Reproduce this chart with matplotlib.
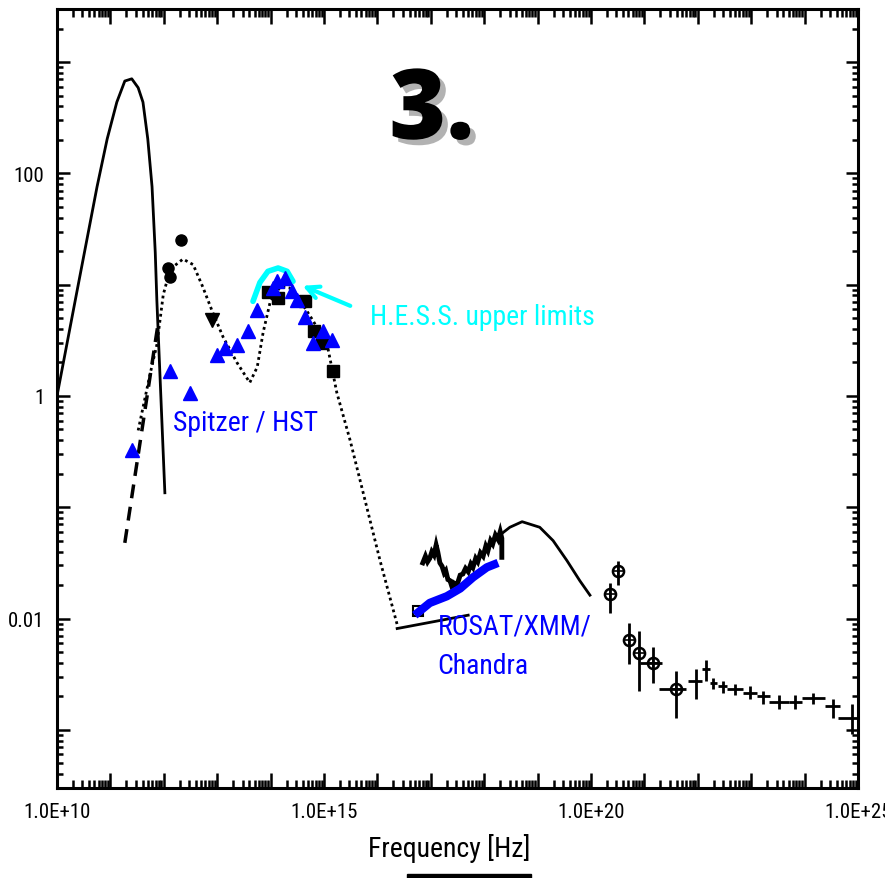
import numpy as np
import matplotlib
matplotlib.use("Agg")
import matplotlib.pyplot as plt
import matplotlib.patheffects as pe
from matplotlib.ticker import LogLocator, FuncFormatter, NullFormatter
from matplotlib.patches import Rectangle

# narrow sans like the original Arial Narrow labels
plt.rcParams['font.family'] = ['Roboto Condensed', 'DejaVu Sans']

# all values are log10(frequency [Hz]) and log10(flux)
radio_x = [10.00, 10.37, 10.75, 10.94, 11.12, 11.27, 11.40, 11.52, 11.61, 11.70, 11.78, 11.84, 11.87, 12.02]
radio_y = [0.00, 0.93, 1.88, 2.31, 2.64, 2.83, 2.85, 2.77, 2.64, 2.31, 1.88, 1.29, 0.86, -0.87]

dash_x = [11.27, 11.89]
dash_y = [-1.32, 0.64]

sync_x = [11.52, 11.74, 11.87, 11.99, 12.12, 12.36, 12.55, 12.73, 12.90, 13.11, 13.37, 13.61, 13.75,
          13.86, 13.99, 14.18, 14.36, 14.55, 14.79, 15.06, 15.24, 15.49, 15.77, 16.05, 16.39]
sync_y = [-0.31, 0.19, 0.46, 0.91, 1.14, 1.23, 1.18, 0.98, 0.77, 0.53, 0.30, 0.12, 0.26,
          0.57, 0.84, 0.98, 0.97, 0.86, 0.68, 0.46, 0.03, -0.40, -0.94, -1.48, -2.09]

low_x = [16.37, 17.70]
low_y = [-2.09, -1.97]

ic_x = [18.24, 18.48, 18.71, 19.04, 19.29, 19.55, 19.79, 19.98]
ic_y = [-1.27, -1.18, -1.13, -1.18, -1.30, -1.48, -1.66, -1.79]

xray_x = [16.85, 16.90, 16.94, 16.98, 17.02, 17.06, 17.10, 17.13, 17.17, 17.21, 17.25, 17.28, 17.32,
          17.36, 17.40, 17.43, 17.49, 17.55, 17.60, 17.65, 17.70, 17.75, 17.79, 17.84, 17.88, 17.93,
          17.98, 18.03, 18.07, 18.12, 18.16, 18.21, 18.26, 18.30, 18.33, 18.33]
xray_y = [-1.50, -1.44, -1.49, -1.46, -1.40, -1.43, -1.34, -1.40, -1.50, -1.53, -1.59, -1.57, -1.65,
          -1.66, -1.72, -1.68, -1.70, -1.61, -1.60, -1.55, -1.58, -1.51, -1.54, -1.46, -1.49, -1.41,
          -1.44, -1.35, -1.39, -1.30, -1.33, -1.25, -1.29, -1.22, -1.28, -1.45]

rosat_x = [16.70, 16.98, 17.30, 17.55, 17.79, 18.05, 18.26]
rosat_y = [-1.97, -1.86, -1.80, -1.73, -1.63, -1.54, -1.50]

hess_x = [13.67, 13.80, 13.95, 14.14, 14.31, 14.42]
hess_y = [0.85, 1.02, 1.12, 1.15, 1.12, 1.03]

spitzer_x = [11.40, 12.12, 12.49, 13.00, 13.15, 13.37, 13.58, 13.75, 14.04, 14.12, 14.27, 14.40,
             14.49, 14.64, 14.79, 14.98, 15.15]
spitzer_y = [-0.49, 0.22, 0.03, 0.37, 0.43, 0.46, 0.58, 0.77, 0.97, 1.03, 1.06, 0.94,
             0.86, 0.71, 0.48, 0.58, 0.50]

circ_x = [12.08, 12.12, 12.32]
circ_y = [1.15, 1.07, 1.40]

down_x = [12.90]
down_y = [0.68]

sq_x = [13.95, 14.14, 14.64, 14.81, 14.96, 15.17]
sq_y = [0.93, 0.88, 0.85, 0.58, 0.48, 0.22]

opensq_x = [16.76]
opensq_y = [-1.93]

# gamma-ray points with circles: value, lower / upper error ends
gc_x = [20.51, 20.36, 20.71, 20.90, 21.16, 21.59]
gc_y = [-1.57, -1.78, -2.19, -2.31, -2.40, -2.63]
gc_ylo = [-1.70, -1.95, -2.41, -2.65, -2.58, -2.89]
gc_yhi = [-1.48, -1.68, -2.04, -2.11, -2.26, -2.47]
gc_xlo = [20.51, 20.36, 20.71, 20.90, 20.92, 21.27]
gc_xhi = [20.51, 20.36, 20.71, 20.90, 21.33, 21.78]

# gamma-ray crosses
gx = [21.97, 22.15, 22.28, 22.47, 22.70, 22.98, 23.22, 23.52, 23.82, 24.16, 24.53, 24.89]
gy = [-2.56, -2.45, -2.58, -2.61, -2.63, -2.67, -2.70, -2.75, -2.75, -2.71, -2.79, -2.89]
gylo = [-2.72, -2.56, -2.63, -2.67, -2.69, -2.72, -2.77, -2.81, -2.81, -2.77, -2.89, -3.04]
gyhi = [-2.45, -2.37, -2.53, -2.56, -2.59, -2.61, -2.65, -2.69, -2.69, -2.67, -2.72, -2.77]
gxlo = [21.82, 22.08, 22.23, 22.38, 22.55, 22.85, 23.11, 23.33, 23.71, 23.95, 24.38, 24.63]
gxhi = [22.08, 22.23, 22.36, 22.55, 22.85, 23.11, 23.35, 23.71, 23.95, 24.38, 24.66, 25.00]


def p(v):
    return 10 ** np.asarray(v, dtype=float)


fig = plt.figure(figsize=(8.85, 8.79), dpi=100)
ax = fig.add_axes([0.0644, 0.1024, 0.9051, 0.8862])
ax.set_xscale('log')
ax.set_yscale('log')
ax.set_xlim(1e10, 1e25)
ax.set_ylim(3e-4, 3e3)

# model curves
ax.plot(p(radio_x), p(radio_y), color='k', lw=2)
ax.plot(p(dash_x), p(dash_y), color='k', lw=2.5, dashes=(4, 2.5))
ax.plot(p(sync_x), p(sync_y), color='k', lw=2, linestyle=(0, (1, 1.2)))
ax.plot(p(low_x), p(low_y), color='k', lw=2)
ax.plot(p(ic_x), p(ic_y), color='k', lw=2)
ax.plot(p(xray_x), p(xray_y), color='k', lw=3.5, solid_joinstyle='miter')

# data
ax.plot(p(hess_x), p(hess_y), color='#00ffff', lw=4, solid_capstyle='round', zorder=3)
ax.plot(p(spitzer_x), p(spitzer_y), '^', color='#0000ff', ms=10, zorder=4)
ax.plot(p(circ_x), p(circ_y), 'o', color='k', ms=8)
ax.plot(p(down_x), p(down_y), 'v', color='k', ms=10)
ax.plot(p(sq_x), p(sq_y), 's', color='k', ms=8, zorder=3)
ax.plot(p(rosat_x), p(rosat_y), color='#0000ff', lw=6, solid_capstyle='butt', zorder=4)
ax.plot(p(opensq_x), p(opensq_y), 's', mfc='none', mec='k', mew=1.5, ms=7)

yerr = [p(gc_y) - p(gc_ylo), p(gc_yhi) - p(gc_y)]
xerr = [p(gc_x) - p(gc_xlo), p(gc_xhi) - p(gc_x)]
ax.errorbar(p(gc_x), p(gc_y), yerr=yerr, xerr=xerr, fmt='o', mfc='none', mec='k', mew=1.8,
            ms=8, ecolor='k', elinewidth=2, capsize=0)
ax.plot(p(gc_x), p(gc_y), '+', color='k', ms=8, mew=1.2)

yerr2 = [p(gy) - p(gylo), p(gyhi) - p(gy)]
xerr2 = [p(gx) - p(gxlo), p(gxhi) - p(gx)]
ax.errorbar(p(gx), p(gy), yerr=yerr2, xerr=xerr2, fmt='none', ecolor='k', elinewidth=2, capsize=0)

# labels
ax.annotate('', xy=(p(14.55), p(1.00)), xytext=(p(15.54), p(0.80)),
            arrowprops=dict(arrowstyle='->', color='#00ffff', lw=3, mutation_scale=22))
ax.text(p(15.86), p(0.65), 'H.E.S.S. upper limits', color='#00ffff', fontsize=20,
        ha='left', va='baseline')
ax.text(p(12.17), p(-0.31), 'Spitzer / HST', color='#0000ff', fontsize=20,
        ha='left', va='baseline')
ax.text(p(17.13), p(-2.135), 'ROSAT/XMM/', color='#0000ff', fontsize=20,
        ha='left', va='baseline', zorder=5)
ax.text(p(17.13), p(-2.49), 'Chandra', color='#0000ff', fontsize=20,
        ha='left', va='baseline')

# axes styling
for s in ax.spines.values():
    s.set_linewidth(2.2)

ax.xaxis.set_major_locator(LogLocator(base=10, numticks=40))
ax.xaxis.set_minor_locator(LogLocator(base=10, subs=np.arange(2, 10), numticks=40))
ax.yaxis.set_major_locator(LogLocator(base=10, numticks=40))
ax.yaxis.set_minor_locator(LogLocator(base=10, subs=np.arange(2, 10), numticks=40))


def xfmt(v, pos):
    e = int(round(np.log10(v)))
    return f"1.0E+{e}" if e % 5 == 0 else ""


def yfmt(v, pos):
    e = int(round(np.log10(v)))
    return {2: "100", 0: "1", -2: "0.01"}.get(e, "")


ax.xaxis.set_major_formatter(FuncFormatter(xfmt))
ax.yaxis.set_major_formatter(FuncFormatter(yfmt))
ax.xaxis.set_minor_formatter(NullFormatter())
ax.yaxis.set_minor_formatter(NullFormatter())

ax.tick_params(which='both', direction='in', top=True, right=True, width=1.8, labelsize=15)
ax.tick_params(axis='x', which='major', length=11, pad=10)
ax.tick_params(axis='x', which='minor', length=6)
ax.tick_params(axis='y', which='major', length=9, pad=9)
ax.tick_params(axis='y', which='minor', length=4.5)

ax.set_xlabel('Frequency [Hz]', fontsize=20)
ax.xaxis.set_label_coords(0.49, -0.058)

# big slide number
fig.text(0.488, 0.841, '3.', fontsize=70, fontweight='heavy', family='Open Sans',
         ha='center', va='baseline', color='k',
         path_effects=[pe.withSimplePatchShadow(offset=(4, -4), shadow_rgbFace='0.4', alpha=0.5)])

fig.patches.append(Rectangle((407 / 885, 0), 124 / 885, 4 / 879, transform=fig.transFigure,
                             color='k'))

fig.savefig('out.png', dpi=100)
